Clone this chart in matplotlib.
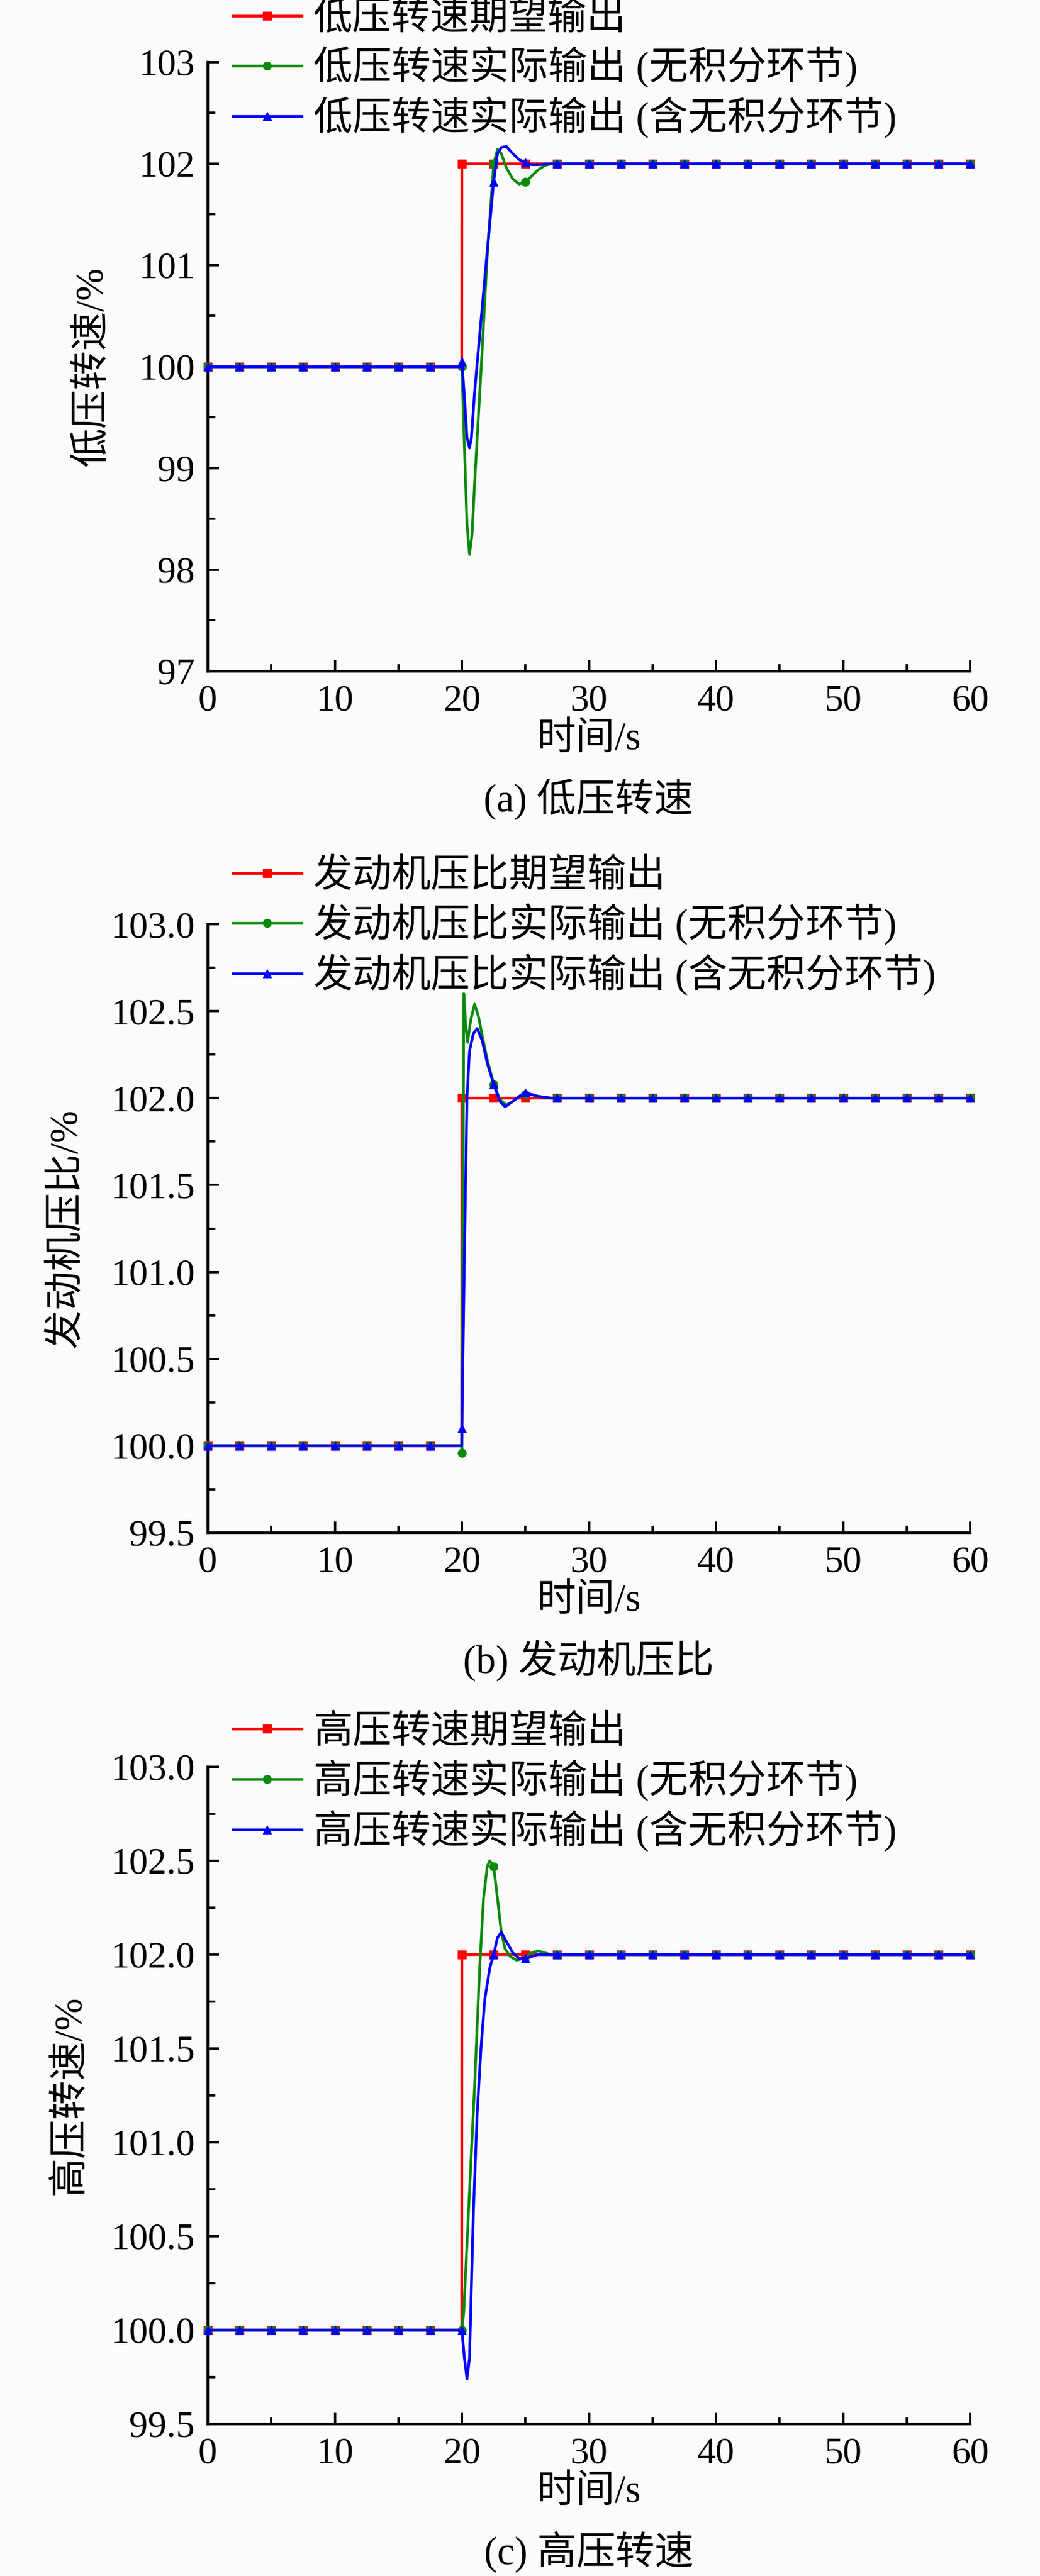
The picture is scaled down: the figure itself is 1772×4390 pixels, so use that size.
import numpy as np
import matplotlib
matplotlib.use('Agg')
import matplotlib.pyplot as plt
from matplotlib.ticker import MultipleLocator, FormatStrFormatter

plt.rcParams['font.family'] = ['Liberation Serif', 'Noto Sans CJK SC']
plt.rcParams['axes.unicode_minus'] = False

# ----------------------------------------------------------------
#  data (time in s, values in %)
#  steady parts are sampled every 2.5 s (the marker positions)

t_pre = [0.0, 2.5, 5.0, 7.5, 10.0, 12.5, 15.0, 17.5, 19.99]
y_pre = [100.0, 100.0, 100.0, 100.0, 100.0, 100.0, 100.0, 100.0, 100.0]
t_post = [27.5, 30.0, 32.5, 35.0, 37.5, 40.0, 42.5, 45.0, 47.5, 50.0, 52.5, 55.0, 57.5, 60.0]
y_post = [102.0, 102.0, 102.0, 102.0, 102.0, 102.0, 102.0, 102.0, 102.0, 102.0, 102.0, 102.0, 102.0, 102.0]

# (a) low pressure spool speed
t_a_ref = [20.0, 22.5, 25.0]
y_a_ref = [102.0, 102.0, 102.0]
t_a_noi = [20.0, 20.2, 20.4, 20.6, 20.8, 21.0, 21.5, 22.0, 22.5, 22.8, 23.1, 23.5, 24.0, 24.5, 25.0, 25.5, 26.0, 26.5, 27.0]
y_a_noi = [100.0, 99.2, 98.45, 98.15, 98.35, 98.85, 99.95, 101.1, 102.0, 102.14, 102.1, 101.96, 101.85, 101.8, 101.82, 101.88, 101.94, 101.98, 102.0]
t_a_int = [20.0, 20.2, 20.4, 20.6, 20.75, 21.0, 21.5, 22.0, 22.5, 22.8, 23.1, 23.5, 24.0, 24.5, 25.0, 25.5, 26.0, 27.0]
y_a_int = [100.05, 99.7, 99.3, 99.2, 99.3, 99.75, 100.45, 101.15, 101.82, 102.1, 102.16, 102.17, 102.1, 102.04, 102.01, 101.99, 101.99, 102.0]

# (b) engine pressure ratio
t_b_ref = [20.0, 22.5, 25.0]
y_b_ref = [102.0, 102.0, 102.0]
t_b_noi = [20.0, 20.15, 20.3, 20.45, 20.7, 21.0, 21.3, 21.6, 22.0, 22.5, 23.0, 23.5, 24.0, 24.5, 25.0, 25.5, 26.0, 27.0]
y_b_noi = [99.96, 102.6, 102.42, 102.32, 102.45, 102.54, 102.47, 102.36, 102.22, 102.08, 101.99, 101.96, 101.98, 102.01, 102.02, 102.02, 102.01, 102.0]
t_b_int = [20.0, 20.2, 20.4, 20.6, 20.9, 21.2, 21.6, 22.0, 22.5, 23.0, 23.4, 24.0, 24.5, 25.0, 25.5, 26.0, 27.0]
y_b_int = [100.1, 101.1, 102.0, 102.27, 102.37, 102.4, 102.33, 102.2, 102.08, 101.98, 101.95, 101.98, 102.01, 102.03, 102.02, 102.01, 102.0]

# (c) high pressure spool speed
t_c_ref = [20.0, 22.5, 25.0]
y_c_ref = [102.0, 102.0, 102.0]
t_c_noi = [20.0, 20.15, 20.5, 21.0, 21.4, 21.7, 22.0, 22.2, 22.5, 22.8, 23.1, 23.4, 23.8, 24.3, 24.9, 25.5, 26.0, 26.5, 27.0]
y_c_noi = [100.0, 100.1, 100.6, 101.3, 101.93, 102.3, 102.47, 102.5, 102.47, 102.3, 102.12, 102.03, 101.99, 101.97, 101.98, 102.01, 102.02, 102.01, 102.0]
t_c_int = [20.0, 20.2, 20.4, 20.6, 20.9, 21.2, 21.5, 21.8, 22.2, 22.5, 22.8, 23.1, 23.5, 24.0, 24.5, 25.0, 25.5, 26.0, 27.0]
y_c_int = [100.0, 99.85, 99.74, 99.85, 100.62, 101.15, 101.5, 101.76, 101.93, 102.0, 102.09, 102.12, 102.07, 102.01, 101.98, 101.98, 101.99, 102.0, 102.0]

panels = [
    {'ref': (t_a_ref, y_a_ref), 'noi': (t_a_noi, y_a_noi), 'int': (t_a_int, y_a_int),
     'name': '低压转速', 'ylabel': '低压转速/%', 'caption': '(a) 低压转速',
     'ylim': (97, 103), 'major': 1.0, 'fmt': '%d'},
    {'ref': (t_b_ref, y_b_ref), 'noi': (t_b_noi, y_b_noi), 'int': (t_b_int, y_b_int),
     'name': '发动机压比', 'ylabel': '发动机压比/%', 'caption': '(b) 发动机压比',
     'ylim': (99.5, 103.0), 'major': 0.5, 'fmt': '%.1f'},
    {'ref': (t_c_ref, y_c_ref), 'noi': (t_c_noi, y_c_noi), 'int': (t_c_int, y_c_int),
     'name': '高压转速', 'ylabel': '高压转速/%', 'caption': '(c) 高压转速',
     'ylim': (99.5, 103.0), 'major': 0.5, 'fmt': '%.1f'},
]

# ----------------------------------------------------------------
#  layout in pixels (figure is 1772 x 4390)
W, H = 1772, 4390
x_left, x_right = 354, 1653
ax_tb = [(106, 1144), (1575, 2612), (3011, 4131)]
leg_top = [2, 1463, 2922]
ylab_x = [158, 113, 119]

fs = 46
fs_txt = 48
colors = {'ref': '#ff0000', 'noi': '#0a8a0a', 'int': '#0000ff'}
markers = {'ref': 's', 'noi': 'o', 'int': '^'}

fig = plt.figure(figsize=(W / 100, H / 100), dpi=100)
fig.patch.set_facecolor('#fbfbfb')

for i, p in enumerate(panels):
    top, bot = ax_tb[i]
    ax = fig.add_axes([x_left / W, 1 - bot / H, (x_right - x_left) / W, (bot - top) / H])
    ax.set_facecolor('#fbfbfb')

    labels = {'ref': p['name'] + '期望输出',
              'noi': p['name'] + '实际输出 (无积分环节)',
              'int': p['name'] + '实际输出 (含无积分环节)'}
    for key in ['ref', 'noi', 'int']:
        t = np.array(t_pre + list(p[key][0]) + t_post)
        y = np.array(y_pre + list(p[key][1]) + y_post)
        idx = [k for k in range(len(t)) if abs(t[k] / 2.5 - round(t[k] / 2.5)) < 1e-6]
        ax.plot(t, y, color=colors[key], lw=3.3, marker=markers[key], ms=10,
                markevery=idx, label=labels[key], clip_on=False, zorder=3)

    ax.set_xlim(0, 60)
    ax.set_ylim(*p['ylim'])
    ax.xaxis.set_major_locator(MultipleLocator(10))
    ax.xaxis.set_minor_locator(MultipleLocator(5))
    ax.yaxis.set_major_locator(MultipleLocator(p['major']))
    ax.yaxis.set_minor_locator(MultipleLocator(p['major'] / 2))
    ax.yaxis.set_major_formatter(FormatStrFormatter(p['fmt']))
    for s in ['top', 'right']:
        ax.spines[s].set_visible(False)
    for s in ['left', 'bottom']:
        ax.spines[s].set_linewidth(3.2)
    ax.tick_params(which='major', direction='in', length=14, width=2.8, labelsize=fs, pad=16)
    ax.tick_params(which='minor', direction='in', length=9, width=2.8)

    ax.set_xlabel('时间/s', fontsize=fs_txt, labelpad=4)
    ax.set_ylabel(p['ylabel'], fontsize=fs_txt, va='center')
    ax.yaxis.set_label_coords((ylab_x[i] - x_left) / (x_right - x_left), 0.5)

    fig.text(1003 / W, 1 - (bot + 218) / H, p['caption'], fontsize=fs_txt,
             ha='center', va='center')

    ax.legend(loc='upper left', bbox_to_anchor=(397 / W, 1 - leg_top[i] / H),
              bbox_transform=fig.transFigure, frameon=False, fontsize=fs_txt,
              numpoints=1, handlelength=1.75, handletextpad=0.3,
              labelspacing=0.22, borderpad=0, borderaxespad=0)

plt.savefig('out.png', dpi=100, facecolor=fig.get_facecolor())
